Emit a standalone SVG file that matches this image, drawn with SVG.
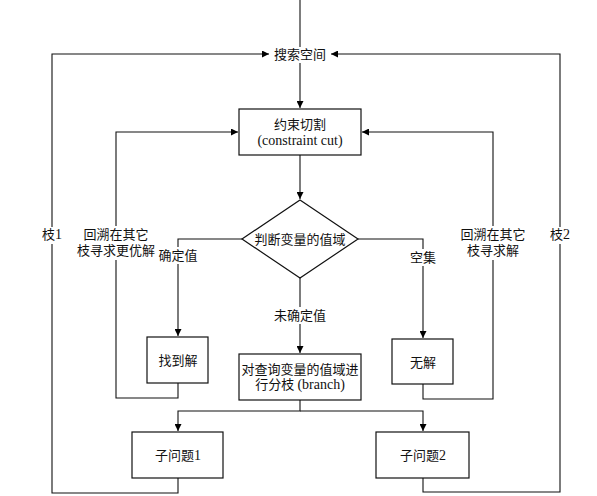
<svg xmlns="http://www.w3.org/2000/svg" width="597" height="496" viewBox="0 0 597 496">
<defs>
<marker id="arr" viewBox="0 0 8 8" refX="8" refY="4" markerWidth="7" markerHeight="7" markerUnits="userSpaceOnUse" orient="auto">
<path d="M0,0 L8,4 L0,8 Z" fill="#000"/>
</marker>
</defs>
<style>
.n{fill:#fff;stroke:#111;stroke-width:1.2}
.c{fill:none;stroke:#111;stroke-width:1.1}
.t{font-family:"Liberation Serif","Noto Sans CJK SC",serif;font-size:13px;fill:#111;text-anchor:middle}
.l{font-size:14px}
.bg{fill:#fff}
</style>
<rect width="597" height="496" fill="#fff"/>
<g id="connectors">
<path class="c" d="M300,0 V47"/>
<path class="c" d="M300,63 V108" marker-end="url(#arr)"/>
<path class="c" d="M300,155 V199" marker-end="url(#arr)"/>
<path class="c" d="M242,239 H178 V336" marker-end="url(#arr)"/>
<path class="c" d="M358,239 H423 V338" marker-end="url(#arr)"/>
<path class="c" d="M300,278 V353" marker-end="url(#arr)"/>
<path class="c" d="M178,383 V398 H116 V132 H238" marker-end="url(#arr)"/>
<path class="c" d="M423,384 V399 H493 V132 H362" marker-end="url(#arr)"/>
<path class="c" d="M300,400 V411 H178 V431" marker-end="url(#arr)"/>
<path class="c" d="M300,411 H423 V431" marker-end="url(#arr)"/>
<path class="c" d="M178,478 V493 H52 V54 H269" marker-end="url(#arr)"/>
<path class="c" d="M423,478 V492 H560 V54 H331" marker-end="url(#arr)"/>
</g>
<g id="labels">
<rect class="bg" x="158" y="247" width="40" height="17"/>
<text class="t" x="178" y="260">确定值</text>
<rect class="bg" x="409" y="249" width="28" height="17"/>
<text class="t" x="423" y="262">空集</text>
<rect class="bg" x="274" y="307" width="52" height="17"/>
<text class="t" x="300" y="320">未确定值</text>
<rect class="bg" x="42" y="227" width="21" height="17"/>
<text class="t" x="52" y="239">枝<tspan class="l">1</tspan></text>
<rect class="bg" x="550" y="227" width="21" height="17"/>
<text class="t" x="560" y="239">枝<tspan class="l">2</tspan></text>
<rect class="bg" x="78" y="226" width="77" height="34"/>
<text class="t" x="116" y="239">回溯在其它</text>
<text class="t" x="116" y="255">枝寻求更优解</text>
<rect class="bg" x="460" y="226" width="66" height="34"/>
<text class="t" x="493" y="239">回溯在其它</text>
<text class="t" x="493" y="255">枝寻求解</text>
</g>
<g id="search-space">
<text class="t" x="300" y="59">搜索空间</text>
</g>
<g id="constraint-cut">
<rect class="n" x="239" y="109" width="122" height="46"/>
<text class="t" x="300" y="128.5">约束切割</text>
<text class="t l" x="300" y="145">(constraint cut)</text>
</g>
<g id="decision">
<polygon class="n" points="300,200 358,239 300,278 242,239"/>
<text class="t" x="300" y="243.5">判断变量的值域</text>
</g>
<g id="found">
<rect class="n" x="147" y="337" width="61" height="46"/>
<text class="t" x="178" y="364.5">找到解</text>
</g>
<g id="nosolution">
<rect class="n" x="392" y="339" width="61" height="45"/>
<text class="t" x="423" y="366.5">无解</text>
</g>
<g id="branch">
<rect class="n" x="239" y="354" width="122" height="46"/>
<text class="t" x="300" y="373.5">对查询变量的值域进</text>
<text class="t" x="300" y="389">行分枝 <tspan class="l">(branch)</tspan></text>
</g>
<g id="sub1">
<rect class="n" x="132" y="432" width="91" height="46"/>
<text class="t" x="178" y="459.5">子问题<tspan class="l">1</tspan></text>
</g>
<g id="sub2">
<rect class="n" x="376" y="432" width="93" height="46"/>
<text class="t" x="423" y="459.5">子问题<tspan class="l">2</tspan></text>
</g>
</svg>
